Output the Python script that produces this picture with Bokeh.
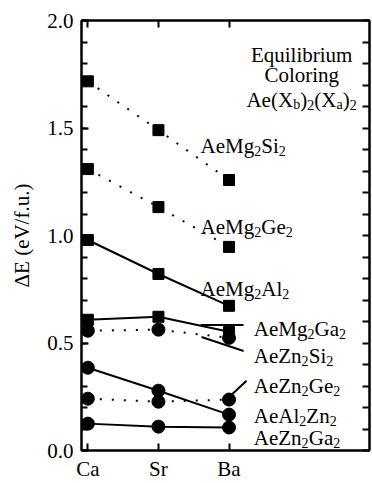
from bokeh.plotting import figure
from bokeh.models import Range1d, LinearAxis, FixedTicker, ColumnDataSource, PrintfTickFormatter
from bokeh.core.properties import value
from bokeh.embed import file_html
from bokeh.resources import INLINE

# ---------------- data ----------------
categories = ["Ca", "Sr", "Ba"]
mg_si2 = [1.717, 1.490, 1.258]
mg_ge2 = [1.309, 1.132, 0.947]
mg_al2 = [0.979, 0.821, 0.673]
mg_ga2 = [0.608, 0.622, 0.552]
zn_si2 = [0.557, 0.562, 0.524]
zn_ge2 = [0.241, 0.227, 0.237]
al2_zn2 = [0.385, 0.278, 0.167]
zn_ga2 = [0.125, 0.111, 0.107]
y_major = [0.0, 0.5, 1.0, 1.5, 2.0]
y_minor = [0.0, 0.1, 0.2, 0.3, 0.4, 0.5, 0.6, 0.7, 0.8, 0.9, 1.0,
           1.1, 1.2, 1.3, 1.4, 1.5, 1.6, 1.7, 1.8, 1.9, 2.0]

FONT = "Liberation Serif"
F = 21
SUB = 0.68
DROP = 5

xs = list(range(len(categories)))

p = figure(width=372, height=483, output_backend="svg", toolbar_location=None,
           x_range=Range1d(-0.09, 3.99), y_range=Range1d(0, 2.0),
           min_border_left=81, min_border_right=3, min_border_top=20, min_border_bottom=31,
           x_axis_location=None, y_axis_location=None)
p.grid.visible = False
p.outline_line_color = "black"
p.outline_line_width = 2
p.background_fill_color = "white"
p.border_fill_color = "white"


def style_axis(ax):
    ax.axis_line_width = 2
    ax.major_tick_in = 7
    ax.major_tick_out = 0
    ax.minor_tick_in = 6
    ax.minor_tick_out = 0
    ax.major_tick_line_width = 2
    ax.minor_tick_line_width = 2
    ax.major_label_text_font = FONT
    ax.major_label_text_font_size = f"{F}px"
    ax.major_label_text_color = "black"
    ax.axis_label_text_font = FONT
    ax.axis_label_text_font_size = f"{F}px"
    ax.axis_label_text_font_style = "normal"
    ax.axis_label_text_color = "black"


bottom = LinearAxis(ticker=FixedTicker(ticks=xs),
                    major_label_overrides={i: c for i, c in enumerate(categories)})
style_axis(bottom)
bottom.major_label_standoff = 6

# top / right: ticks only, drawn as minor ticks (no labels)
top = LinearAxis(ticker=FixedTicker(ticks=[], minor_ticks=xs))
style_axis(top)
top.minor_tick_in = 7

left = LinearAxis(ticker=FixedTicker(ticks=y_major, minor_ticks=y_minor),
                  formatter=PrintfTickFormatter(format="%.1f"),
                  axis_label="ΔE (eV/f.u.)")
style_axis(left)
left.major_label_standoff = 8
left.axis_label_standoff = 10

right = LinearAxis(ticker=FixedTicker(ticks=[], minor_ticks=y_minor))
style_axis(right)
right.minor_tick_in = 7

p.add_layout(bottom, "below")
p.add_layout(top, "above")
p.add_layout(left, "left")
p.add_layout(right, "right")

# ---------------- series ----------------
series = [
    (mg_si2, "square", "2 10"),
    (mg_ge2, "square", "2 10"),
    (mg_al2, "square", "solid"),
    (mg_ga2, "square", "solid"),
    (zn_si2, "circle", "2 10"),
    (zn_ge2, "circle", "2 10"),
    (al2_zn2, "circle", "solid"),
    (zn_ga2, "circle", "solid"),
]
for vals, marker, dash in series:
    if dash == "solid":
        p.line(xs, vals, line_color="black", line_width=2)
    else:
        p.line(xs, vals, line_color="black", line_width=2, line_dash=dash)
for vals, marker, dash in series:
    if marker == "square":
        p.scatter(xs, vals, marker="square", size=11, fill_color="black", line_color="black")
    else:
        p.scatter(xs, vals, marker="circle", size=13, fill_color="black", line_color="black")

# leader lines (annotation positions, data units)
leaders = [
    ([1.596, 2.206], [0.584, 0.584]),
    ([1.610, 2.206], [0.528, 0.463]),
    ([2.021, 2.248], [0.255, 0.324]),
]
for lx, ly in leaders:
    p.line(lx, ly, line_color="black", line_width=2)

# ---------------- labels ----------------
W = {"A": 722, "e": 444, "M": 889, "g": 500, "S": 556, "i": 278, "G": 722, "l": 278,
     "a": 444, "Z": 611, "n": 500, "(": 333, ")": 333, "X": 722, "b": 500, "2": 500,
     "E": 611, "q": 500, "u": 500, "r": 333, "m": 778, "C": 667, "o": 500, " ": 250}


def tw(s, size):
    return sum(W.get(c, 500) for c in s) / 1000.0 * size


def parts_of(name):
    out = []
    for c in name:
        sub = c.isdigit()
        if out and out[-1][1] == sub:
            out[-1] = (out[-1][0] + c, sub)
        else:
            out.append((c, sub))
    return out


rows = dict(x=[], y=[], text=[], xo=[], yo=[], fs=[])


def add_rich(parts, x, y, align="left"):
    total = sum(tw(t, F * SUB if s else F) for t, s in parts)
    off = -total / 2.0 if align == "center" else 0.0
    for t, s in parts:
        size = F * SUB if s else F
        rows["x"].append(x)
        rows["y"].append(y)
        rows["text"].append(t)
        rows["xo"].append(round(off, 1))
        rows["yo"].append(DROP if s else 0)
        rows["fs"].append(f"{size:.0f}px")
        off += tw(t, size)


compound_labels = [
    ("AeMg2Si2", 1.596, 1.414),
    ("AeMg2Ge2", 1.596, 1.038),
    ("AeMg2Al2", 1.596, 0.751),
    ("AeMg2Ga2", 2.35, 0.565),
    ("AeZn2Si2", 2.35, 0.440),
    ("AeZn2Ge2", 2.35, 0.301),
    ("AeAl2Zn2", 2.35, 0.162),
    ("AeZn2Ga2", 2.35, 0.056),
]
for name, lx, ly in compound_labels:
    add_rich(parts_of(name), lx, ly)

add_rich([("Equilibrium", False)], 3.03, 1.840, "center")
add_rich([("Coloring", False)], 3.03, 1.747, "center")
add_rich([("Ae(X", False), ("b", True), (")", False), ("2", True), ("(X", False),
          ("a", True), (")", False), ("2", True)], 3.03, 1.632, "center")

src = ColumnDataSource(rows)
p.text(x="x", y="y", text="text", x_offset="xo", y_offset="yo", text_font_size="fs",
       source=src, text_baseline="alphabetic", text_align="left",
       text_font=value(FONT), text_color="black")

open("out.html", "w").write(file_html(p, INLINE))
